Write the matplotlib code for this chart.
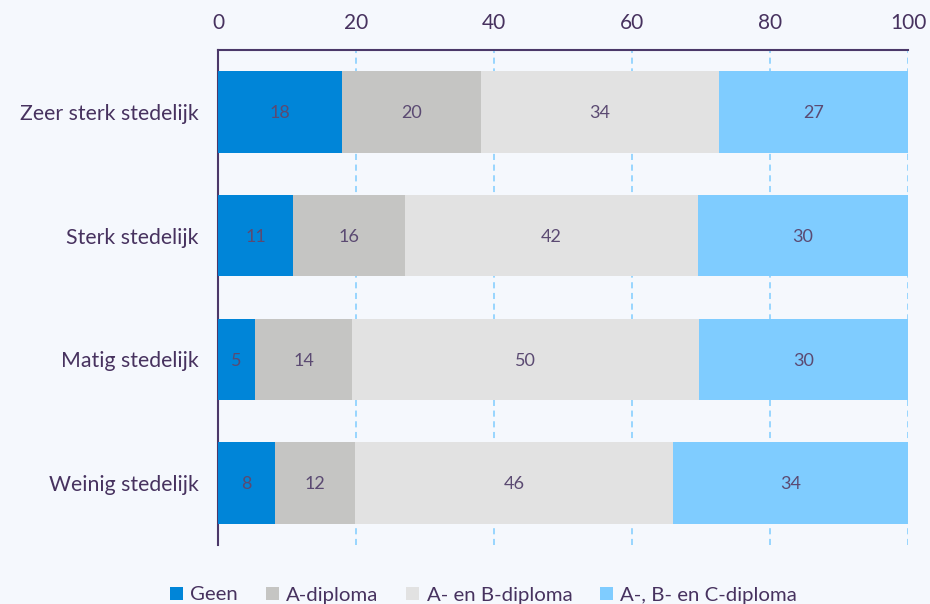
import numpy as np
import matplotlib.pyplot as plt

# data (percent)
categories = ['Zeer sterk stedelijk', 'Sterk stedelijk', 'Matig stedelijk', 'Weinig stedelijk']
series_names = ['Geen', 'A-diploma', 'A- en B-diploma', 'A-, B- en C-diploma']
geen = [18.0, 10.9, 5.4, 8.3]
a_dipl = [20.1, 16.2, 14.0, 11.6]
ab_dipl = [34.4, 42.4, 50.3, 46.0]
abc_dipl = [27.4, 30.4, 30.3, 34.1]
labels = [[18, 11, 5, 8], [20, 16, 14, 12], [34, 42, 50, 46], [27, 30, 30, 34]]
xticks = [0, 20, 40, 60, 80, 100]

colors = ['#0085D8', '#C5C5C3', '#E2E2E2', '#7FCCFF']
txt = '#47325F'
bg = '#F5F8FD'

plt.rcParams['font.family'] = ['Lato', 'DejaVu Sans']

fig = plt.figure(figsize=(9.3, 6.04), dpi=100, facecolor=bg)
ax = fig.add_axes([218/930, 1-545/604, 690/930, 495/604], facecolor=bg)

data = np.array([geen, a_dipl, ab_dipl, abc_dipl])
data = data / data.sum(axis=0) * 100
y = np.arange(len(categories))
left = np.zeros(len(categories))
for i, name in enumerate(series_names):
    ax.barh(y, data[i], left=left, height=0.66, color=colors[i], label=name, zorder=3)
    for j in range(len(categories)):
        ax.text(left[j] + data[i][j]/2, y[j] + 0.01, str(labels[i][j]), ha='center', va='center',
                fontsize=13, color='#5B4A72', zorder=4)
    left += data[i]

ax.set_xlim(0, 100)
ax.set_ylim(3.5, -0.5)
ax.set_xticks(xticks)
ax.xaxis.tick_top()
ax.tick_params(axis='x', length=0, labelsize=15, labelcolor=txt, pad=12)
ax.tick_params(axis='y', length=0, labelsize=15.3, labelcolor=txt, pad=14)
ax.set_yticks(y)
ax.set_yticklabels(categories)
ax.grid(axis='x', color='#7FCCFF', linestyle=(0, (4, 3)), linewidth=1.1, zorder=1)
for s in ['right', 'bottom']:
    ax.spines[s].set_visible(False)
ax.spines['top'].set_color('#4B3869')
ax.spines['top'].set_linewidth(1.5)
ax.spines['left'].set_color('#4B3869')
ax.spines['left'].set_linewidth(1.5)

leg = fig.legend(loc='center', bbox_to_anchor=(0.52, 1-595/604), ncol=4, frameon=False,
                 fontsize=14.7, handlelength=0.65, handleheight=0.65, handletextpad=0.35,
                 columnspacing=1.35, labelcolor=txt)

fig.savefig('out.png', dpi=100, facecolor=bg)
